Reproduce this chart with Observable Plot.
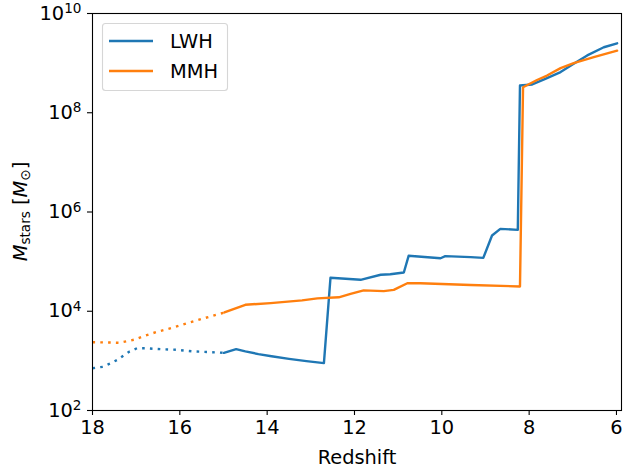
<!DOCTYPE html>
<html>
<head>
<meta charset="utf-8">
<script src="https://cdn.jsdelivr.net/npm/d3@7"></script>
<script src="https://cdn.jsdelivr.net/npm/@observablehq/plot@0.6"></script>
<style>
  html, body { margin: 0; padding: 0; background: white; }
  #chart { width: 624px; height: 470px; }
</style>
</head>
<body>
<div id="chart"></div>
<script>
// ---- Data ----
const seriesNames = ["LWH", "MMH"];
const xTicks = [18, 16, 14, 12, 10, 8, 6];
const yTicks = [1e2, 1e4, 1e6, 1e8, 1e10];

// LWH, extrapolated (dotted) part
const lwhDotZ = [18.0, 17.76, 17.59, 17.43, 17.28, 17.15, 16.98, 16.8, 16.44, 16.06, 15.69, 15.34, 14.99];
const lwhDotM = [710, 760, 890, 1050, 1300, 1550, 1800, 1800, 1720, 1670, 1550, 1510, 1450];
// LWH, simulated (solid) part
const lwhZ = [14.99, 14.71, 14.5, 14.2, 13.9, 13.5, 13.1, 12.70, 12.55, 11.86, 11.40, 11.18, 10.87, 10.76, 10.03, 9.92, 9.34, 9.05, 8.85, 8.66, 8.26, 8.21, 7.93, 7.63, 7.28, 6.98, 6.67, 6.29, 5.985];
const lwhM = [1450, 1720, 1550, 1370, 1240, 1100, 990, 900, 47200, 43000, 54300, 55800, 60300, 131000, 117000, 129000, 123000, 119000, 336000, 457000, 437000, 3.54e8, 3.72e8, 4.83e8, 6.6e8, 9.7e8, 1.43e9, 2.09e9, 2.51e9];

// MMH, extrapolated (dotted) part
const mmhDotZ = [18.0, 17.57, 17.39, 17.21, 17.03, 16.86, 16.52, 16.16, 15.83, 15.48, 15.14, 14.98];
const mmhDotM = [2380, 2340, 2310, 2490, 2690, 3090, 3850, 4680, 5750, 7080, 8610, 9440];
// MMH, simulated (solid) part
const mmhZ = [14.98, 14.5, 13.92, 13.2, 12.85, 12.36, 12.09, 11.79, 11.33, 11.1, 10.79, 10.49, 9.34, 8.21, 8.14, 7.82, 7.59, 7.28, 6.98, 6.52, 5.985];
const mmhM = [9440, 13500, 14600, 16600, 18200, 19100, 22400, 26300, 25400, 26900, 36700, 36700, 33900, 31600, 3.27e8, 4.57e8, 5.62e8, 7.94e8, 1.0e9, 1.32e9, 1.78e9];

const colors = ["#1f77b4", "#ff7f0e"];

const toRows = (zs, ms) => zs.map((z, i) => ({z, m: ms[i]}));
const lwhDot = toRows(lwhDotZ, lwhDotM);
const lwhSolid = toRows(lwhZ, lwhM);
const mmhDot = toRows(mmhDotZ, mmhDotM);
const mmhSolid = toRows(mmhZ, mmhM);

const LW = 2.4;
const FS = 19.4;

const plot = Plot.plot({
  width: 624,
  height: 470,
  marginLeft: 92,
  marginRight: 3,
  marginTop: 13,
  marginBottom: 60,
  style: {fontFamily: "DejaVu Sans", fontSize: FS + "px", color: "black", background: "white"},
  x: {domain: [18, 5.885]},
  y: {type: "log", domain: [1e2, 1e10]},
  marks: [
    Plot.line(lwhDot, {x: "z", y: "m", stroke: colors[0], strokeWidth: LW, strokeDasharray: "2.6,5.2", strokeLinecap: "butt"}),
    Plot.line(lwhSolid, {x: "z", y: "m", stroke: colors[0], strokeWidth: LW}),
    Plot.line(mmhDot, {x: "z", y: "m", stroke: colors[1], strokeWidth: LW, strokeDasharray: "2.6,5.2", strokeLinecap: "butt"}),
    Plot.line(mmhSolid, {x: "z", y: "m", stroke: colors[1], strokeWidth: LW}),
    Plot.frame({stroke: "black", strokeWidth: 1.1}),
    Plot.axisX({ticks: xTicks, tickSize: 5, tickPadding: 5, label: null, tickFormat: d => String(d), strokeWidth: 1.1}),
    Plot.axisY({ticks: yTicks, tickSize: 5, tickPadding: 6, label: null, tickFormat: d => "10^" + Math.round(Math.log10(d)), strokeWidth: 1.1}),
    Plot.text(["Redshift"], {frameAnchor: "bottom", dy: 53, lineAnchor: "bottom", fontSize: FS})
  ]
});

document.getElementById("chart").appendChild(plot);

const svg = d3.select(plot);

// y tick labels with superscripts
svg.selectAll('g[aria-label="y-axis tick label"] text').each(function() {
  const t = d3.select(this);
  const s = t.text();
  const exp = s.split("^")[1];
  t.text("10");
  t.append("tspan").attr("dy", "-0.48em").attr("font-size", "70%").text(exp);
});

// y axis title: M_stars [M_sun]
const yl = svg.append("text")
  .attr("transform", "translate(27,211.5) rotate(-90)")
  .attr("text-anchor", "middle")
  .attr("font-family", "DejaVu Sans")
  .attr("font-size", FS)
  .attr("fill", "black");
yl.append("tspan").attr("font-style", "italic").text("M");
yl.append("tspan").attr("font-size", "70%").attr("dy", "0.22em").text("stars");
yl.append("tspan").attr("dy", "-0.154em").text(" [");
yl.append("tspan").attr("font-style", "italic").text("M");
yl.append("tspan").attr("font-size", "70%").attr("dy", "0.22em").text("\u2299");
yl.append("tspan").attr("dy", "-0.154em").text("]");

// legend
const lg = svg.append("g");
lg.append("rect")
  .attr("x", 102.5).attr("y", 23.5).attr("width", 125).attr("height", 67)
  .attr("rx", 3).attr("ry", 3)
  .attr("fill", "white").attr("fill-opacity", 0.8)
  .attr("stroke", "#d6d6d6").attr("stroke-width", 1.1);
seriesNames.forEach((name, i) => {
  const y = 41 + i * 30;
  lg.append("line").attr("x1", 109).attr("x2", 153).attr("y1", y).attr("y2", y)
    .attr("stroke", colors[i]).attr("stroke-width", LW);
  lg.append("text").attr("x", 170).attr("y", y).attr("dy", "0.36em")
    .attr("text-anchor", "start")
    .attr("font-family", "DejaVu Sans").attr("font-size", FS).attr("fill", "black")
    .text(name);
});
</script>
</body>
</html>
